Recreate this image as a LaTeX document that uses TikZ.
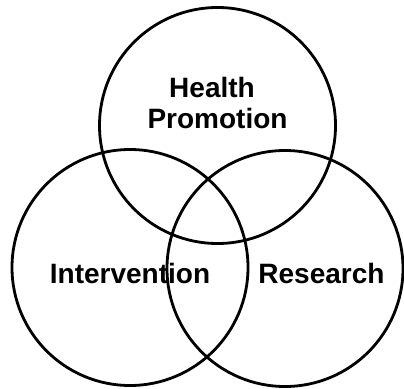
\documentclass[tikz,border=0pt]{standalone}
\usepackage{fontspec}
\setmainfont{Liberation Sans}
\begin{document}
\begin{tikzpicture}[x=1pt,y=-1pt,
  ring/.style={circle, draw=black, line width=2.8pt, inner sep=0pt, minimum size=236pt},
  label/.style={anchor=base, inner sep=0pt, font=\fontsize{28}{31}\selectfont\bfseries}]
\useasboundingbox (0,0) rectangle (404,388);
\node[ring] (hp) at (217.5,125.5) {};
\node[ring] (iv) at (130,267.5) {};
\node[ring] (rs) at (285,268.5) {};
\node[label] (t1) at (212,97) {Health};
\node[label] (t2) at (217.5,128) {Promotion};
\node[label] (t3) at (130,283) {Intervention};
\node[label] (t4) at (321.5,283) {Research};
\end{tikzpicture}
\end{document}
